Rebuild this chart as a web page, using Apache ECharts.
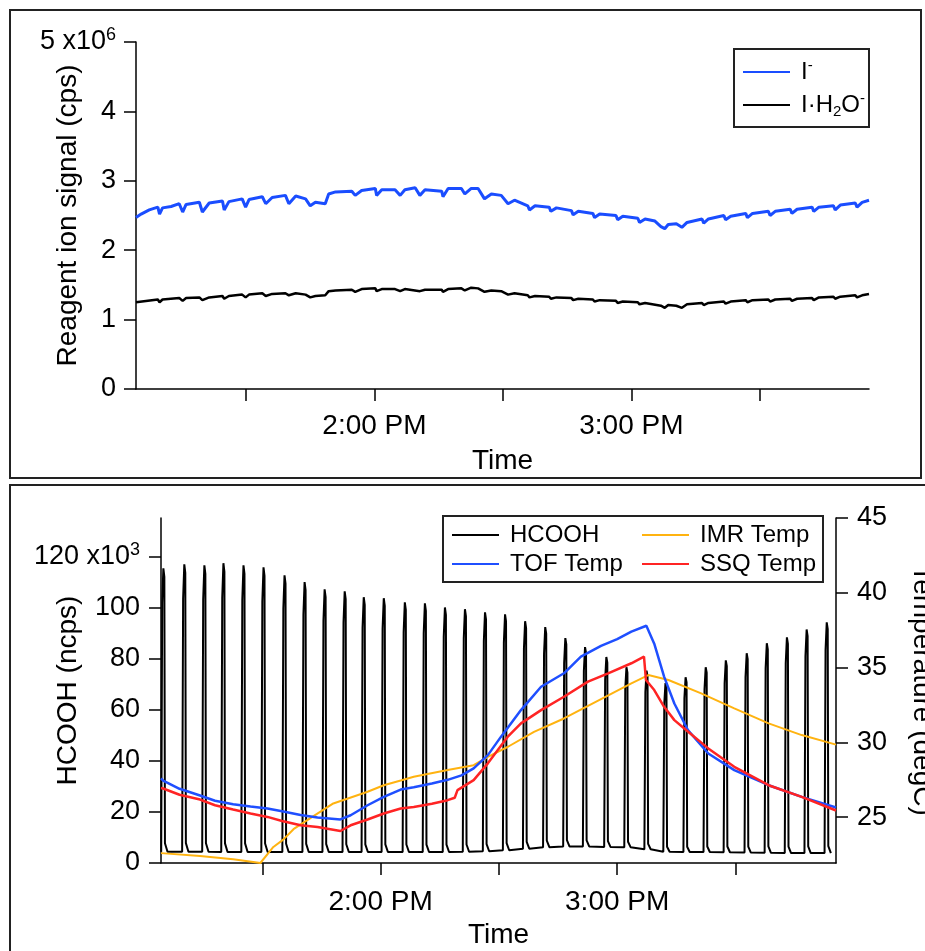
<!DOCTYPE html>
<html>
<head>
<meta charset="utf-8">
<script src="https://cdn.jsdelivr.net/npm/echarts@6/dist/echarts.min.js"></script>
<style>
  html, body { margin: 0; padding: 0; background: #fff; }
  #chart { width: 925px; height: 951px; }
</style>
</head>
<body>
<div id="chart"></div>
<script>
// time in minutes after 1:00 PM
var xMin = 4.3, xMax = 175.5;
var timeTicks = [30, 60, 90, 120, 150];
var timeLabels = { 60: '2:00 PM', 120: '3:00 PM' };

// top panel: reagent ions (x10^6 cps)
var ionI = [
  [4.3, 2.47], [5.5, 2.52], [7.4, 2.58], [9.4, 2.62], [9.8, 2.52], [10.5, 2.61], [12.5, 2.63], [14.4, 2.67], [15.2, 2.55],
  [16, 2.66], [19.1, 2.69], [19.8, 2.55], [21.4, 2.68], [24.5, 2.71], [24.9, 2.58], [26, 2.7], [29.1, 2.74], [29.9, 2.62],
  [30.7, 2.73], [33.8, 2.77], [34.6, 2.67], [36.1, 2.76], [39.2, 2.79], [40, 2.67], [41.6, 2.78], [43.9, 2.74], [45, 2.64],
  [46.2, 2.69], [48.5, 2.67], [49.3, 2.81], [50.9, 2.84], [54.7, 2.85], [55.5, 2.79], [57, 2.86], [60.2, 2.89], [60.5, 2.79],
  [61.7, 2.87], [64.8, 2.87], [66, 2.79], [67.1, 2.87], [69.5, 2.9], [70.6, 2.79], [71.8, 2.87], [75.7, 2.85], [76, 2.77],
  [77.2, 2.89], [80.3, 2.89], [81.1, 2.81], [82.6, 2.89], [84.2, 2.89], [85.7, 2.74], [87.3, 2.81], [89.6, 2.79], [91.2, 2.67],
  [92.7, 2.72], [95.8, 2.64], [96.2, 2.58], [97.5, 2.64], [100.8, 2.62], [101.2, 2.56], [102.5, 2.61], [106, 2.57], [106.4, 2.51],
  [107.6, 2.56], [111, 2.53], [111.4, 2.47], [112.6, 2.52], [116.4, 2.5], [116.8, 2.44], [118, 2.49], [121.5, 2.46], [121.9, 2.4],
  [123.2, 2.45], [125.5, 2.42], [126.9, 2.34], [127.8, 2.31], [128.6, 2.37], [130.5, 2.38], [131.8, 2.33], [133, 2.4],
  [136.5, 2.45], [136.9, 2.39], [138, 2.45], [141.6, 2.5], [142, 2.44], [143.2, 2.49], [146.7, 2.53], [147.1, 2.47], [148.3, 2.53],
  [152, 2.56], [152.4, 2.5], [153.6, 2.56], [157.1, 2.59], [157.5, 2.53], [158.7, 2.59], [162.2, 2.62], [162.6, 2.56], [163.8, 2.62],
  [167.2, 2.64], [167.6, 2.58], [168.8, 2.65], [172.3, 2.68], [172.7, 2.62], [173.9, 2.69], [175.5, 2.72]
];
var ionIH2O = [
  [4.3, 1.25], [9.4, 1.29], [9.8, 1.25], [10.5, 1.29], [14.4, 1.31], [15.2, 1.27], [16, 1.31], [19.1, 1.32], [19.8, 1.28],
  [21.4, 1.32], [24.5, 1.34], [24.9, 1.3], [26, 1.34], [29.1, 1.36], [29.9, 1.32], [30.7, 1.36], [33.8, 1.38], [34.6, 1.34],
  [36.1, 1.37], [39.2, 1.38], [40, 1.35], [41.6, 1.38], [43.9, 1.36], [45, 1.32], [46.2, 1.34], [48.5, 1.35], [49.3, 1.41],
  [50.9, 1.42], [54.7, 1.43], [55.5, 1.4], [57, 1.44], [60.2, 1.45], [60.5, 1.41], [61.7, 1.44], [64.8, 1.44], [66, 1.41],
  [67.1, 1.44], [70.6, 1.41], [71.8, 1.43], [75.7, 1.43], [76, 1.4], [77.2, 1.44], [80.3, 1.45], [81.1, 1.42], [82.6, 1.46],
  [84.2, 1.45], [85.7, 1.4], [87.3, 1.42], [89.6, 1.41], [91.2, 1.36], [92.7, 1.38], [95.8, 1.35], [96.2, 1.32], [97.5, 1.34],
  [100.8, 1.33], [101.2, 1.3], [102.5, 1.32], [106, 1.31], [106.4, 1.28], [107.6, 1.3], [111, 1.29], [111.4, 1.26], [112.6, 1.28],
  [116.4, 1.27], [116.8, 1.24], [118, 1.26], [121.5, 1.25], [121.9, 1.22], [123.2, 1.24], [126.9, 1.2], [127.8, 1.17], [128.6, 1.21],
  [130.5, 1.2], [131.8, 1.17], [133, 1.22], [136.5, 1.24], [136.9, 1.21], [138, 1.24], [141.6, 1.26], [142, 1.23], [143.2, 1.26],
  [146.7, 1.28], [147.1, 1.25], [148.3, 1.28], [152, 1.29], [152.4, 1.26], [153.6, 1.29], [157.1, 1.3], [157.5, 1.27], [158.7, 1.3],
  [162.2, 1.31], [162.6, 1.28], [163.8, 1.32], [167.2, 1.33], [167.6, 1.3], [168.8, 1.33], [172.3, 1.35], [172.7, 1.32],
  [173.9, 1.35], [175.5, 1.37]
];

// bottom panel: HCOOH calibration pulses (x10^3 ncps)
var pulseStart = [4.35, 9.66, 14.75, 19.58, 24.67, 29.75, 35.08, 40.17, 45.25, 50.34, 55.17, 60.25, 65.59, 70.68, 75.76, 80.84,
  85.93, 91.01, 96.1, 101.2, 106.3, 111.3, 116.7, 121.8, 126.9, 131.7, 136.8, 141.9, 147.0, 152.3, 157.4, 162.5, 167.5, 172.6];
var pulsePeak = [115.3, 116.9, 116.5, 117.3, 116.5, 115.7, 112.6, 109.9, 107.1, 106.3, 104, 103.6, 102, 101.6, 100, 99.3,
  98.1, 97.3, 94.6, 92.3, 88, 84.5, 80.6, 76.6, 75.3, 70.4, 72.7, 76.6, 79.3, 82.1, 86, 88.3, 91.4, 94.2];
var pulseBase = [4.4, 4.4, 4.4, 4.3, 4.3, 4.3, 4.3, 4.3, 4.3, 4.3, 4.3, 4.3, 4.3, 4.3, 4.3, 4.4,
  4.6, 5, 5.6, 6.2, 6.5, 6.5, 6.3, 6.2, 5.4, 4.4, 4.3, 4.3, 4.2, 4.1, 4, 3.9, 3.9, 3.9];
// pulse outline: [minutes after start, fraction of height]
var pulseShape = [[0, 0], [0.25, 0.88], [0.55, 1], [0.8, 0.97], [0.95, 0.03], [1.6, 0]];

// temperatures (degC)
var tofTemp = [
  [4.3, 27.6], [4.84, 27.45], [9, 26.9], [14.2, 26.45], [18, 26.1], [22.6, 25.87], [27, 25.72], [31.3, 25.58], [35, 25.4],
  [39.7, 25.15], [44, 24.98], [49.8, 24.85], [52.4, 25.13], [56.7, 25.8], [60.8, 26.36], [65.1, 26.85], [68.4, 27.0], [73, 27.25],
  [77, 27.5], [80.5, 27.8], [83.6, 28.26], [87.2, 29.15], [90.5, 30.37], [95.6, 32.16], [100.7, 33.72], [106.5, 34.62],
  [110.8, 35.73], [115.9, 36.45], [120, 36.9], [123.6, 37.4], [127.4, 37.8], [129.4, 36.6], [131.9, 34.4], [134.5, 32.6],
  [138, 30.8], [143.1, 29.26], [149.7, 28.15], [158.4, 27.14], [166.8, 26.36], [175.5, 25.65]
];
var ssqTemp = [
  [4.3, 26.95], [4.84, 26.92], [9, 26.5], [14.2, 26.18], [18, 25.8], [22.6, 25.51], [27, 25.25], [31.3, 25.02], [35, 24.75],
  [39.7, 24.46], [44, 24.35], [49.8, 24.08], [52.4, 24.46], [56.7, 24.85], [60.8, 25.25], [65.1, 25.58], [68.4, 25.69],
  [73, 25.9], [77, 26.14], [78.8, 26.3], [79.5, 26.81], [83.6, 27.48], [87.2, 28.6], [92.2, 30.37], [95.6, 31.27],
  [100.7, 32.16], [106.5, 33.05], [112.6, 34.06], [117.7, 34.62], [123.6, 35.29], [126.8, 35.73], [127.3, 34.17],
  [129.4, 33.5], [131.9, 32.38], [134.5, 31.49], [138, 30.71], [143.1, 29.6], [149.7, 28.37], [158.4, 27.14],
  [166.8, 26.36], [175.5, 25.45]
];
var imrTemp = [
  [4.3, 22.6], [14.2, 22.41], [22.6, 22.19], [27.7, 22.01], [29.5, 21.94], [32.8, 23.01], [35.3, 23.5], [37.9, 24.2],
  [41.4, 24.8], [48, 25.92], [56.7, 26.7], [60.8, 27.14], [65.1, 27.45], [68.4, 27.7], [77, 28.15], [83.6, 28.48],
  [87.2, 29.04], [92.3, 29.71], [98.9, 30.71], [106.5, 31.6], [115.9, 32.9], [123.6, 33.95], [127.9, 34.5], [133, 34.17],
  [141.3, 33.28], [149.7, 32.28], [158.4, 31.27], [166.8, 30.49], [175.5, 29.85]
];

var hcooh = [];
pulseStart.forEach(function (t0, i) {
  var b = pulseBase[i], h = pulsePeak[i] - b;
  pulseShape.forEach(function (p) { hcooh.push([t0 + p[0], b + p[1] * h]); });
});

var FONT = '"Liberation Sans", Arial, sans-serif';
var black = { color: '#000', width: 1.5 };
var nameStyle = { color: '#000', fontSize: 28, fontFamily: FONT };

function timeAxis(gridIndex, labelMargin) {
  return {
    type: 'value', gridIndex: gridIndex, min: xMin, max: xMax,
    axisLine: { show: true, onZero: false, lineStyle: black },
    axisTick: { show: true, customValues: timeTicks, length: 12, lineStyle: black },
    axisLabel: {
      customValues: [60, 120], margin: labelMargin, color: '#000', fontSize: 28, fontFamily: FONT,
      formatter: function (v) { return timeLabels[v] || ''; }
    },
    splitLine: { show: false },
    name: 'Time', nameLocation: 'middle', nameGap: 58, nameMoveOverlap: false,
    nameTextStyle: nameStyle
  };
}

// one column of the bottom legend (the frame round both columns is a graphic rect)
function tempLegend(names, left) {
  return {
    data: names, orient: 'vertical', left: left, top: 523, padding: 0, z: 6,
    icon: 'rect', itemWidth: 47, itemHeight: 2, itemGap: 5,
    textStyle: { fontSize: 24, fontFamily: FONT, color: '#000', padding: [0, 0, 0, 6] }
  };
}

var tickRich = {
  a: { fontSize: 27, fontFamily: FONT, color: '#000', lineHeight: 31 },
  s: { fontSize: 18, fontFamily: FONT, color: '#000', lineHeight: 18, verticalAlign: 'top' }
};

var chart = echarts.init(document.getElementById('chart'));
chart.setOption({
  animation: false,
  backgroundColor: '#fff',
  textStyle: { fontFamily: FONT },
  graphic: [
    { type: 'rect', silent: true, shape: { x: 10, y: 10, width: 911, height: 468 }, style: { fill: 'none', stroke: '#222', lineWidth: 2 } },
    { type: 'rect', silent: true, shape: { x: 10, y: 485, width: 940, height: 480 }, style: { fill: 'none', stroke: '#222', lineWidth: 2 } },
    { type: 'rect', silent: true, z: 3, shape: { x: 443, y: 516, width: 380, height: 66 }, style: { fill: '#fff', stroke: '#222', lineWidth: 2 } }
  ],
  grid: [
    { left: 136, right: 56, top: 42, height: 347, outerBoundsMode: 'none' },
    { left: 161, right: 89, top: 518, height: 345, outerBoundsMode: 'none' }
  ],
  legend: [
    {
      data: ['I-', 'I·H2O-'], orient: 'vertical', left: 734, top: 49,
      icon: 'rect', itemWidth: 47, itemHeight: 2, itemGap: 7,
      padding: [9, 4, 8, 9], borderColor: '#222', borderWidth: 2,
      formatter: function (n) { return n === 'I-' ? '{t|I}{sup|-}' : '{t|I·H}{sub|2}{t|O}{sup|-}'; },
      textStyle: {
        padding: [0, 0, 0, 6],
        rich: {
          t: { fontSize: 24, fontFamily: FONT, color: '#000', lineHeight: 28 },
          sup: { fontSize: 15, fontFamily: FONT, color: '#000', lineHeight: 15, verticalAlign: 'top' },
          sub: { fontSize: 15, fontFamily: FONT, color: '#000', lineHeight: 15, verticalAlign: 'bottom' }
        }
      }
    },
    tempLegend(['HCOOH', 'TOF Temp'], 452),
    tempLegend(['IMR Temp', 'SSQ Temp'], 642)
  ],
  xAxis: [timeAxis(0, 23), timeAxis(1, 25)],
  yAxis: [
    {
      type: 'value', gridIndex: 0, min: 0, max: 5, interval: 1,
      axisLine: { show: true, lineStyle: black },
      axisTick: { show: true, length: 12, lineStyle: black },
      axisLabel: {
        margin: 20, rich: tickRich,
        formatter: function (v) { return v === 5 ? '{a|5 x10}{s|6}' : '{a|' + v + '}'; }
      },
      splitLine: { show: false },
      name: 'Reagent ion signal (cps)', nameLocation: 'middle', nameGap: 54, nameMoveOverlap: false,
      nameTextStyle: nameStyle
    },
    {
      type: 'value', gridIndex: 1, min: 0, max: 135,
      axisLine: { show: true, lineStyle: black },
      axisTick: { show: true, length: 12, customValues: [0, 20, 40, 60, 80, 100, 120], lineStyle: black },
      axisLabel: {
        margin: 21, rich: tickRich, customValues: [0, 20, 40, 60, 80, 100, 120],
        formatter: function (v) { return v === 120 ? '{a|120 x10}{s|3}' : '{a|' + v + '}'; }
      },
      splitLine: { show: false },
      name: 'HCOOH (ncps)', nameLocation: 'middle', nameGap: 79, nameMoveOverlap: false,
      nameTextStyle: nameStyle
    },
    {
      type: 'value', gridIndex: 1, position: 'right', min: 21.94, max: 45,
      axisLine: { show: true, lineStyle: black },
      axisTick: { show: true, length: 12, customValues: [25, 30, 35, 40, 45], lineStyle: black },
      axisLabel: {
        margin: 21, color: '#000', fontSize: 27, fontFamily: FONT, customValues: [25, 30, 35, 40, 45]
      },
      splitLine: { show: false },
      name: 'Temperature (degC)', nameLocation: 'middle', nameGap: 72, nameRotate: -90, nameMoveOverlap: false,
      nameTextStyle: nameStyle
    }
  ],
  series: [
    { name: 'I-', type: 'line', xAxisIndex: 0, yAxisIndex: 0, data: ionI, symbol: 'none', color: '#1a4dff', lineStyle: { width: 3 } },
    { name: 'I·H2O-', type: 'line', xAxisIndex: 0, yAxisIndex: 0, data: ionIH2O, symbol: 'none', color: '#000', lineStyle: { width: 2.5 } },
    { name: 'HCOOH', type: 'line', xAxisIndex: 1, yAxisIndex: 1, data: hcooh, symbol: 'none', color: '#000', lineStyle: { width: 2 } },
    { name: 'IMR Temp', type: 'line', xAxisIndex: 1, yAxisIndex: 2, data: imrTemp, symbol: 'none', color: '#ffb310', lineStyle: { width: 2 } },
    { name: 'TOF Temp', type: 'line', xAxisIndex: 1, yAxisIndex: 2, data: tofTemp, symbol: 'none', color: '#1f4fff', lineStyle: { width: 2.5 } },
    { name: 'SSQ Temp', type: 'line', xAxisIndex: 1, yAxisIndex: 2, data: ssqTemp, symbol: 'none', color: '#ff2424', lineStyle: { width: 2.5 } }
  ]
});
</script>
</body>
</html>
